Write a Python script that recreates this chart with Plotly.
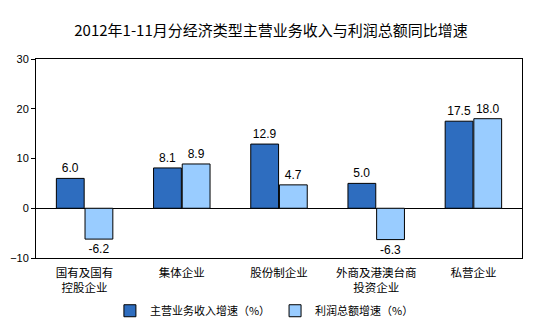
import plotly.graph_objects as go

categories = ["国有及国有<br>控股企业", "集体企业", "股份制企业", "外商及港澳台商<br>投资企业", "私营企业"]
revenue_growth = [6.0, 8.1, 12.9, 5.0, 17.5]
profit_growth = [-6.2, 8.9, 4.7, -6.3, 18.0]
series_names = ["主营业务收入增速（%）", "利润总额增速（%）"]
y_ticks = [-10, 0, 10, 20, 30]

FONT = "Liberation Sans, Arial, Noto Sans CJK SC, sans-serif"
CJK = "Noto Sans CJK SC, sans-serif"

fig = go.Figure()
fig.add_trace(go.Bar(
    x=categories, y=revenue_growth, name=series_names[0],
    marker=dict(color="#2E6DBF", line=dict(color="black", width=1)),
    texttemplate="%{y:.1f}", textposition="outside",
    textfont=dict(size=12, color="black", family=FONT), cliponaxis=False,
))
fig.add_trace(go.Bar(
    x=categories, y=profit_growth, name=series_names[1],
    marker=dict(color="#99CCFF", line=dict(color="black", width=1)),
    texttemplate="%{y:.1f}", textposition="outside",
    textfont=dict(size=12, color="black", family=FONT), cliponaxis=False,
))

fig.update_layout(
    width=542, height=323,
    margin=dict(l=36, r=20, t=59, b=65, autoexpand=False),
    paper_bgcolor="white", plot_bgcolor="white",
    font=dict(family=FONT, size=11, color="black"),
    title=dict(text="2012年1-11月分经济类型主营业务收入与利润总额同比增速",
               x=0.5, xanchor="center", y=0.905, yanchor="middle",
               font=dict(size=15, color="black", family=CJK)),
    barmode="group", bargap=0.41, bargroupgap=0.03,
    showlegend=True,
    legend=dict(orientation="h", x=0.47, xanchor="center", y=-0.265, yanchor="middle",
                font=dict(size=11, family=CJK),
                itemwidth=30, tracegroupgap=0),
)
fig.update_xaxes(showline=True, linecolor="black", linewidth=1, mirror=True,
                 ticks="", showgrid=False, automargin=False, ticklabelstandoff=4,
                 tickfont=dict(size=11.5, family=FONT))
fig.update_yaxes(range=[-10, 30], tickvals=y_ticks, showline=True, linecolor="black",
                 linewidth=1, mirror=True, ticks="outside", ticklen=4, tickcolor="black",
                 showgrid=False, zeroline=True, zerolinecolor="black", zerolinewidth=1,
                 automargin=False, tickfont=dict(size=11))

fig.write_html("out.html")
